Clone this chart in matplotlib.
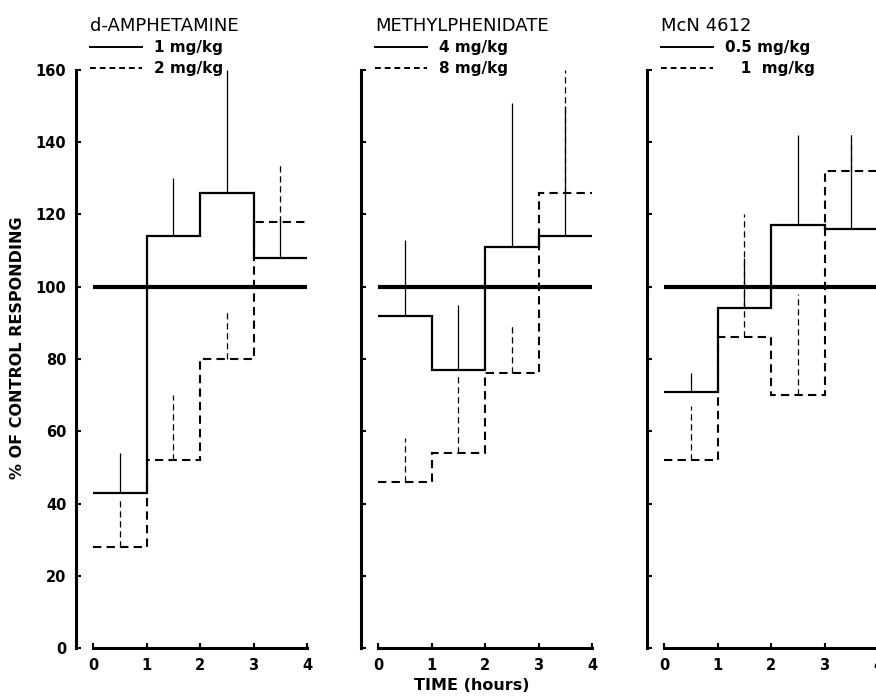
import matplotlib
matplotlib.use('Agg')
import matplotlib.pyplot as plt
from matplotlib.lines import Line2D

# hourly bins
edges = [0, 1, 2, 3, 4]
mids = [0.5, 1.5, 2.5, 3.5]

# d-amphetamine
amph_lo = [43, 114, 126, 108]
amph_lo_top = [54, 130, 160, 119]
amph_hi = [28, 52, 80, 118]
amph_hi_top = [41, 70, 93, 134]

# methylphenidate
mph_lo = [92, 77, 111, 114]
mph_lo_top = [113, 95, 151, 150]
mph_hi = [46, 54, 76, 126]
mph_hi_top = [58, 76, 89, 160]

# McN 4612
mcn_lo = [71, 94, 117, 116]
mcn_lo_top = [76, 108, 142, 141]
mcn_hi = [52, 86, 70, 132]
mcn_hi_top = [67, 120, 98, 143]

drug_names = ['d-AMPHETAMINE', 'METHYLPHENIDATE', 'McN 4612']
dose_labels = [['1 mg/kg', '2 mg/kg'],
               ['4 mg/kg', '8 mg/kg'],
               ['0.5 mg/kg', '   1  mg/kg']]
x_ticks = [0, 1, 2, 3, 4]
y_ticks = [0, 20, 40, 60, 80, 100, 120, 140, 160]

panels = [
    (amph_lo, amph_lo_top, amph_hi, amph_hi_top),
    (mph_lo, mph_lo_top, mph_hi, mph_hi_top),
    (mcn_lo, mcn_lo_top, mcn_hi, mcn_hi_top),
]

plt.rcParams['font.family'] = 'DejaVu Sans'

fig = plt.figure(figsize=(8.76, 6.96), dpi=100)
lefts = [76 / 876, 361 / 876, 647 / 876]
w = 231 / 876
bottom = 48 / 696
h = 578 / 696

for i, (lo, lo_top, hi, hi_top) in enumerate(panels):
    ax = fig.add_axes([lefts[i], bottom, w, h])
    ax.set_xlim(-0.32, 4.0)
    ax.set_ylim(0, 160)

    # control level
    ax.hlines(100, 0, 4, color='black', lw=3.0, zorder=3)

    # steps
    ax.stairs(lo, edges, baseline=None, color='black', lw=1.6, zorder=4)
    ax.stairs(hi, edges, baseline=None, color='black', lw=1.5,
              linestyle=(0, (4, 2.5)), zorder=4)

    # error bars (upper half only)
    ax.vlines(mids, lo, lo_top, color='black', lw=0.9, zorder=5)
    ax.vlines(mids, hi, hi_top, color='black', lw=0.9,
              linestyles=(0, (5, 3)), zorder=5)

    for s in ['top', 'right']:
        ax.spines[s].set_visible(False)
    ax.spines['left'].set_linewidth(2.2)
    ax.spines['bottom'].set_linewidth(2.2)
    ax.spines['left'].set_bounds(0, 160)
    ax.spines['bottom'].set_bounds(0, 4)

    ax.set_xticks(x_ticks)
    ax.set_yticks(y_ticks)
    ax.tick_params(direction='in', length=3.5, width=1.5, labelsize=10.5, pad=7)
    for lab in ax.get_xticklabels() + ax.get_yticklabels():
        lab.set_fontweight('bold')
    if i > 0:
        ax.set_yticklabels([])

    handles = [Line2D([], [], color='black', lw=1.4),
               Line2D([], [], color='black', lw=1.4, linestyle=(0, (3, 2)))]
    leg = ax.legend(handles, dose_labels[i], title=drug_names[i],
                    loc='upper left', bbox_to_anchor=(0.06, 1.092),
                    frameon=False, alignment='left', fontsize=11,
                    title_fontsize=13, handlelength=3.4, handletextpad=0.8,
                    labelspacing=0.4, borderpad=0, borderaxespad=0)
    for t in leg.get_texts():
        t.set_fontweight('bold')
    leg._legend_box.sep = 4

fig.text(18 / 876, 0.5, '% OF CONTROL RESPONDING', rotation=90,
         ha='center', va='center', fontsize=11.5, fontweight='bold')
fig.text(472 / 876, 1 - 686 / 696, 'TIME (hours)', ha='center', va='center',
         fontsize=11.5, fontweight='bold')

fig.savefig('out.png', dpi=100)
